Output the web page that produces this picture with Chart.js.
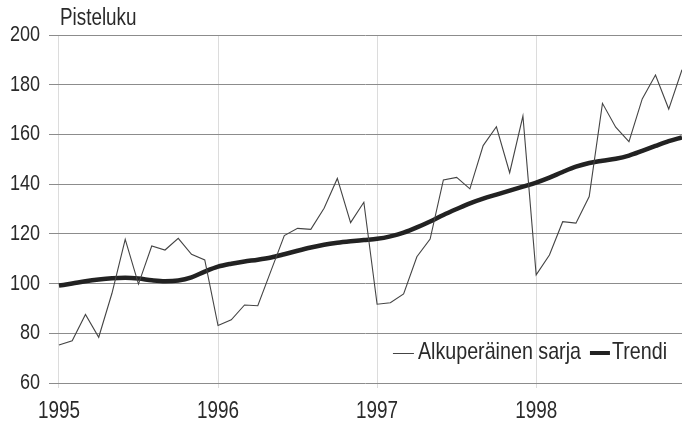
<!DOCTYPE html>
<html>
<head>
<meta charset="utf-8">
<script src="https://cdn.jsdelivr.net/npm/chart.js@4/dist/chart.umd.min.js"></script>
<style>
  html, body { margin: 0; padding: 0; background: #fff; }
  #wrap { width: 682px; height: 422px; position: relative; }
</style>
</head>
<body>
<div id="wrap"><canvas id="c" width="682" height="422"></canvas></div>
<script>
// ---- data ----
const yAxisTitle = 'Pisteluku';
const yearLabels = ['1995', '1996', '1997', '1998'];
const monthIndex = [0,1,2,3,4,5,6,7,8,9,10,11,12,13,14,15,16,17,18,19,20,21,22,23,
                    24,25,26,27,28,29,30,31,32,33,34,35,36,37,38,39,40,41,42,43,44,45,46,47];
const seriesOriginalLabel = 'Alkuperäinen sarja';
const seriesOriginal = [
  75.3, 77.0, 87.6, 78.4, 96.1, 117.8, 99.8, 115.1, 113.5, 118.2, 111.8, 109.5,
  83.1, 85.4, 91.4, 91.1, 105.2, 119.3, 122.2, 121.8, 130.3, 142.3, 124.5, 132.7,
  91.7, 92.3, 95.8, 110.8, 117.9, 141.7, 142.7, 138.1, 155.5, 163.1, 144.6, 167.4,
  103.5, 111.5, 124.9, 124.3, 135.0, 172.5, 162.9, 157.1, 174.3, 183.9, 170.2, 186.0
];
const seriesTrendLabel = 'Trendi';
const seriesTrend = [
  99.2, 100.0, 100.9, 101.6, 102.1, 102.3, 102.0, 101.3, 100.9, 101.2, 102.5, 104.8,
  106.8, 108.0, 108.9, 109.6, 110.5, 111.8, 113.2, 114.5, 115.6, 116.4, 117.0, 117.5,
  118.0, 119.0, 120.5, 122.6, 125.0, 127.6, 130.0, 132.3, 134.2, 135.8, 137.4, 139.0,
  140.6, 142.6, 144.9, 147.0, 148.5, 149.4, 150.2, 151.5, 153.4, 155.4, 157.3, 158.8
];
const yTicks = [60, 80, 100, 120, 140, 160, 180, 200];

// ---- styles ----
const FONT = '"Liberation Sans Narrow", "Liberation Sans", Arial, sans-serif';
const TEXT = '#2a2a2a';
const SX = 0.82; // horizontal condensing of text (narrow typeface look)

const pts = (arr) => arr.map((v, i) => ({ x: monthIndex[i], y: v }));

// Condense all canvas text horizontally around its anchor point
const condense = {
  id: 'condense',
  beforeInit(chart) {
    const ctx = chart.ctx;
    if (ctx.__condensed) return;
    const orig = ctx.fillText;
    ctx.fillText = function (text, x, y, maxWidth) {
      this.save();
      this.translate(x, y);
      this.scale(SX, 1);
      if (maxWidth !== undefined) orig.call(this, text, 0, 0, maxWidth / SX);
      else orig.call(this, text, 0, 0);
      this.restore();
    };
    ctx.__condensed = true;
  }
};

const overlay = {
  id: 'overlay',
  afterDraw(chart) {
    const ctx = chart.ctx;
    const a = chart.chartArea;
    ctx.save();
    ctx.fillStyle = TEXT;
    ctx.textBaseline = 'alphabetic';
    ctx.textAlign = 'left';
    // axis title
    ctx.font = '23px ' + FONT;
    ctx.fillText(yAxisTitle, 60, 25);
    // legend (inside plot, bottom right)
    ctx.font = '24px ' + FONT;
    const ds = chart.data.datasets;
    const baseY = a.bottom - 24;
    const lineY = baseY - 6;
    const w2 = ctx.measureText(ds[1].label).width * SX;
    const w1 = ctx.measureText(ds[0].label).width * SX;
    let x = a.right - 15 - w2;
    ctx.fillText(ds[1].label, x, baseY);
    ctx.strokeStyle = ds[1].borderColor;
    ctx.lineWidth = 4;
    ctx.beginPath(); ctx.moveTo(x - 22, lineY); ctx.lineTo(x - 2, lineY); ctx.stroke();
    x = x - 22 - 9 - w1;
    ctx.fillText(ds[0].label, x, baseY);
    ctx.strokeStyle = ds[0].borderColor;
    ctx.lineWidth = 1;
    ctx.beginPath(); ctx.moveTo(x - 25, lineY + 0.5); ctx.lineTo(x - 4, lineY + 0.5); ctx.stroke();
    ctx.restore();
  }
};

new Chart(document.getElementById('c'), {
  type: 'line',
  data: {
    datasets: [
      { label: seriesOriginalLabel, data: pts(seriesOriginal), borderColor: '#444444',
        borderWidth: 1.1, pointRadius: 0, tension: 0, fill: false },
      { label: seriesTrendLabel, data: pts(seriesTrend), borderColor: '#222222',
        borderWidth: 4.5, pointRadius: 0, tension: 0.4, cubicInterpolationMode: 'monotone', fill: false }
    ]
  },
  options: {
    responsive: false,
    animation: false,
    events: [],
    layout: { padding: { top: 35, right: 0, left: 0, bottom: 0 } },
    plugins: { legend: { display: false }, title: { display: false }, tooltip: { enabled: false } },
    scales: {
      x: {
        type: 'linear',
        min: -0.75,
        max: 47,
        afterBuildTicks(scale) { scale.ticks = yearLabels.map((_, i) => ({ value: i * 12 })); },
        afterFit(scale) { scale.height = 39; },
        ticks: {
          autoSkip: false,
          maxRotation: 0,
          padding: 10,
          color: TEXT,
          font: { family: FONT, size: 23 },
          callback: (v) => yearLabels[Math.round(v / 12)]
        },
        grid: { color: '#dcdcdc', lineWidth: 1, drawTicks: true, tickLength: 5, tickColor: '#dcdcdc' },
        border: { display: false }
      },
      y: {
        min: 60,
        max: 200,
        afterBuildTicks(scale) { scale.ticks = yTicks.map(v => ({ value: v })); },
        afterFit(scale) { scale.width = 49; },
        ticks: {
          padding: 9,
          color: TEXT,
          font: { family: FONT, size: 22 }
        },
        grid: { color: '#8c8c8c', lineWidth: 1, drawTicks: false },
        border: { display: false }
      }
    }
  },
  plugins: [condense, overlay]
});
</script>
</body>
</html>
